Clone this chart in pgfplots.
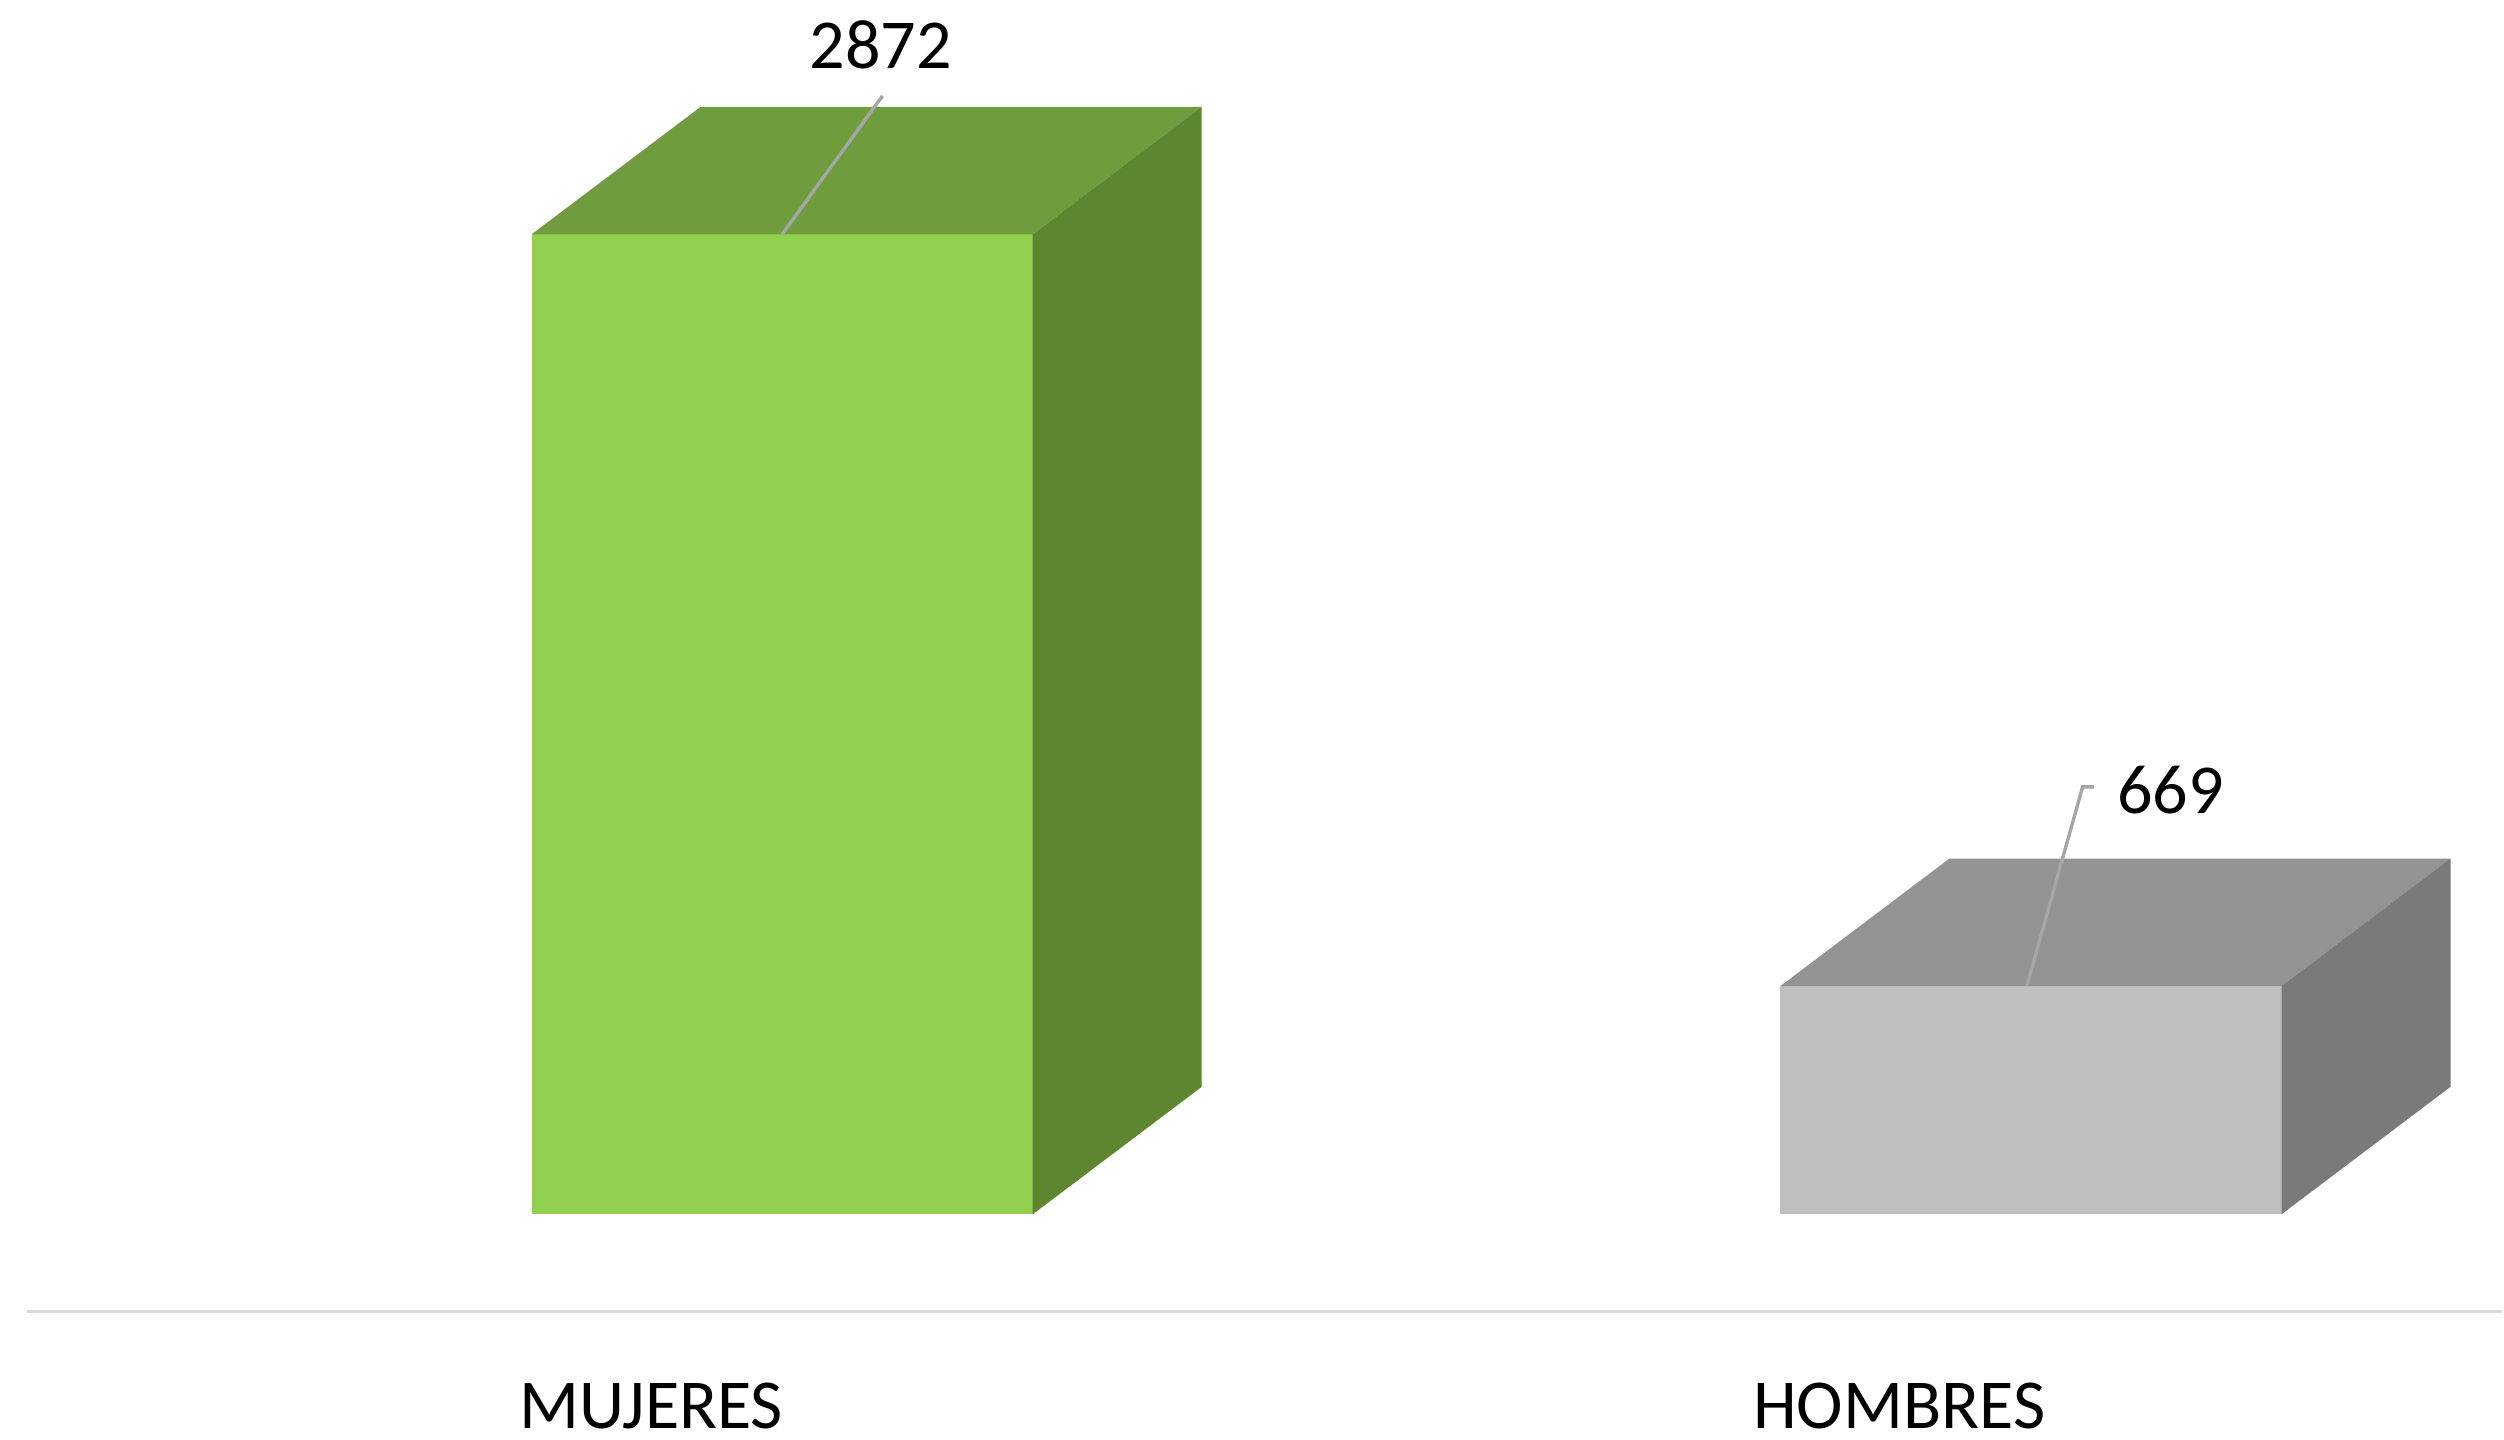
\documentclass[border=0pt]{standalone}
\usepackage{pgfplots}
\pgfplotsset{compat=1.18}
\usepackage{fontspec}
\setmainfont{Carlito}
\definecolor{gfront}{HTML}{92D050}
\definecolor{gtop}{HTML}{6F9D3D}
\definecolor{gside}{HTML}{5E8530}
\definecolor{hfront}{HTML}{BFBFBF}
\definecolor{htop}{HTML}{939393}
\definecolor{hside}{HTML}{7A7A7A}
\definecolor{leader}{HTML}{A6A6A6}
\definecolor{baseln}{HTML}{D9D9D9}
\begin{document}
\begin{tikzpicture}
\begin{axis}[
  scale only axis,
  width=155.1mm, height=82.2mm,
  xmin=-0.6045, xmax=1.3776,
  ymin=-285.3, ymax=3559.1,
  axis x line=bottom, axis y line=none,
  x axis line style={-, draw=baseln, line width=0.6pt},
  xtick={-0.1048,0.8946},
  xticklabels={MUJERES,HOMBRES},
  major tick length=0pt,
  xticklabel style={anchor=base, inner sep=0pt, yshift=-7.3mm, font=\fontsize{12.5}{15}\selectfont},
  clip=false,
]
% MUJERES (2872)
\addplot[fill=gfront, draw=none] coordinates {(-0.2006,0) (0.2006,0) (0.2006,2872) (-0.2006,2872)} -- cycle;
\addplot[fill=gtop, draw=none] coordinates {(-0.2006,2872) (0.2006,2872) (0.3361,3246) (-0.0651,3246)} -- cycle;
\addplot[fill=gside, draw=none] coordinates {(0.2006,0) (0.3361,374) (0.3361,3246) (0.2006,2872)} -- cycle;
% HOMBRES (669)
\addplot[fill=hfront, draw=none] coordinates {(0.7994,0) (1.2006,0) (1.2006,669) (0.7994,669)} -- cycle;
\addplot[fill=htop, draw=none] coordinates {(0.7994,669) (1.2006,669) (1.3361,1043) (0.9349,1043)} -- cycle;
\addplot[fill=hside, draw=none] coordinates {(1.2006,0) (1.3361,374) (1.3361,1043) (1.2006,669)} -- cycle;
% leader lines
\addplot[leader, line width=0.6pt, mark=none] coordinates {(0,2872) (0.0805,3278)};
\addplot[leader, line width=0.6pt, mark=none] coordinates {(0.9968,669) (1.0415,1253) (1.0505,1253)};
% data labels
\addplot[draw=none, mark=none, nodes near coords, point meta=explicit symbolic,
  nodes near coords style={anchor=center, font=\fontsize{12.5}{15}\selectfont, text=black}]
  coordinates {(0.0792,3428)[2872] (1.1118,1244)[669]};
\end{axis}
\path ([xshift=-1.7mm,yshift=-8.0mm]current axis.south west);
\path (current axis.north east);
\end{tikzpicture}
\end{document}
